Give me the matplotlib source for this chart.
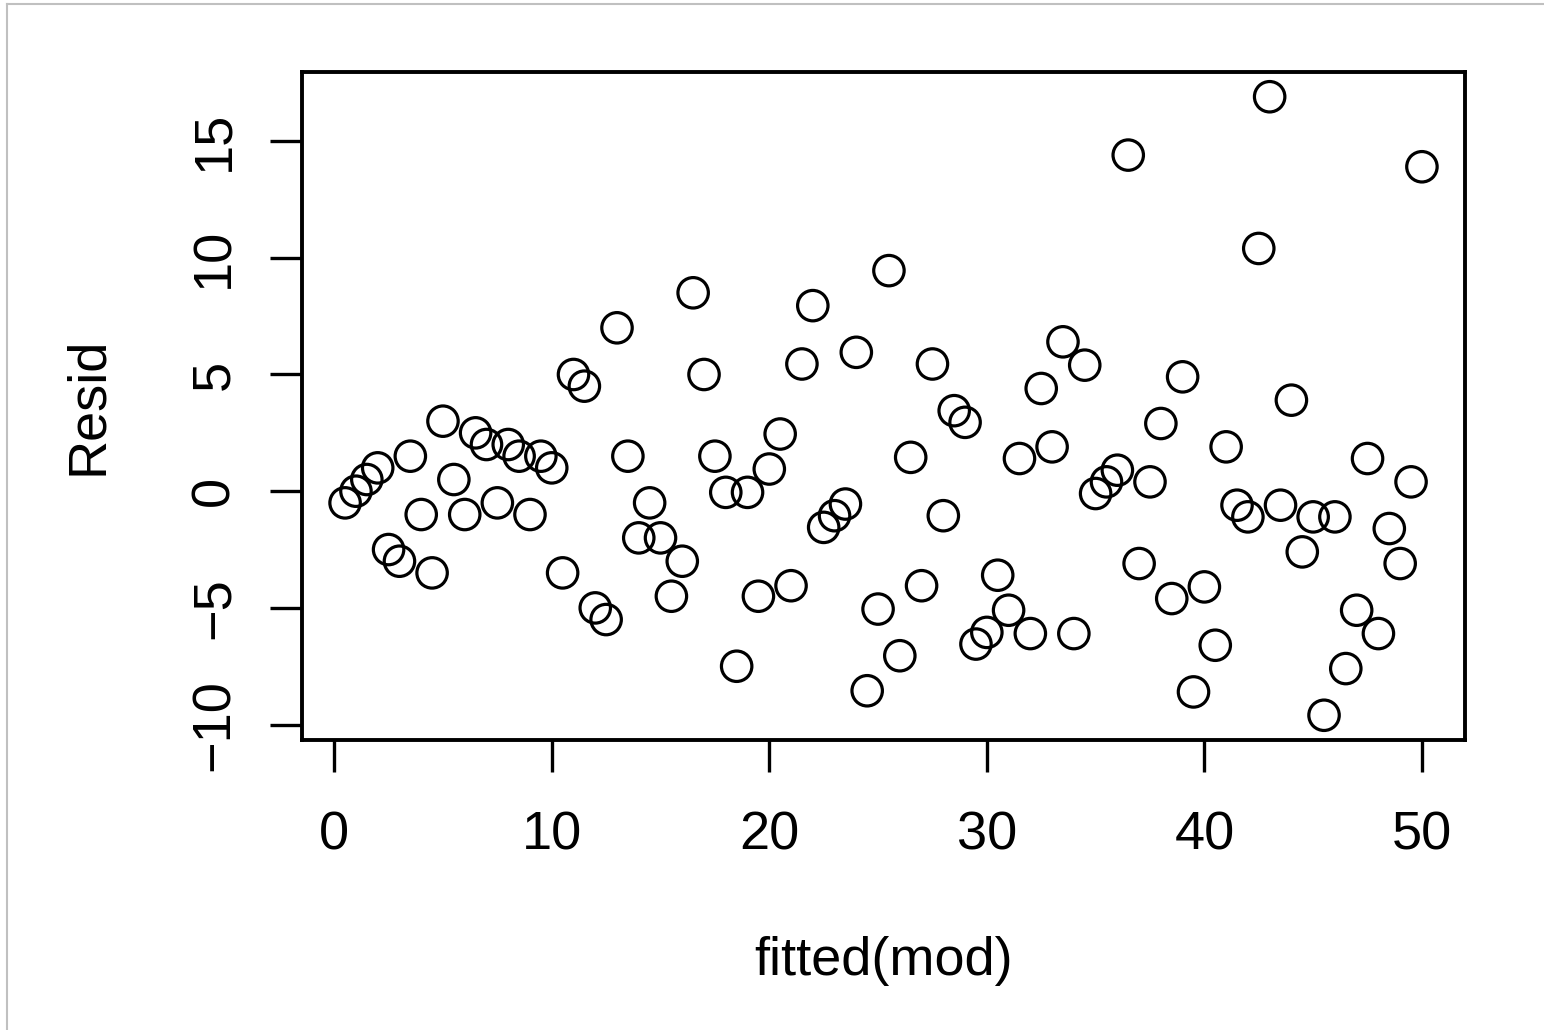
import matplotlib
matplotlib.use("Agg")
import matplotlib.pyplot as plt
from matplotlib.lines import Line2D

plt.rcParams['font.family'] = ['Liberation Sans', 'DejaVu Sans']

# fitted values and residuals
fitted = [0.5, 1.0, 1.5, 2.0, 2.5, 3.0, 3.5, 4.0, 4.5, 5.0,
          5.5, 6.0, 6.5, 7.0, 7.5, 8.0, 8.5, 9.0, 9.5, 10.0,
          10.5, 11.0, 11.5, 12.0, 12.5, 13.0, 13.5, 14.0, 14.5, 15.0,
          15.5, 16.0, 16.5, 17.0, 17.5, 18.0, 18.5, 19.0, 19.5, 20.0,
          20.5, 21.0, 21.5, 22.0, 22.5, 23.0, 23.5, 24.0, 24.5, 25.0,
          25.5, 26.0, 26.5, 27.0, 27.5, 28.0, 28.5, 29.0, 29.5, 30.0,
          30.5, 31.0, 31.5, 32.0, 32.5, 33.0, 33.5, 34.0, 34.5, 35.0,
          35.5, 36.0, 36.5, 37.0, 37.5, 38.0, 38.5, 39.0, 39.5, 40.0,
          40.5, 41.0, 41.5, 42.0, 42.5, 43.0, 43.5, 44.0, 44.5, 45.0,
          45.5, 46.0, 46.5, 47.0, 47.5, 48.0, 48.5, 49.0, 49.5, 50.0]
resid = [-0.5, 0.0, 0.5, 1.0, -2.5, -3.0, 1.5, -1.0, -3.5, 3.0,
         0.5, -1.0, 2.5, 2.0, -0.5, 2.0, 1.5, -1.0, 1.5, 1.0,
         -3.5, 5.0, 4.5, -5.0, -5.5, 7.0, 1.5, -2.0, -0.5, -2.0,
         -4.5, -3.0, 8.5, 5.0, 1.5, -0.05, -7.5, -0.05, -4.5, 0.95,
         2.45, -4.05, 5.45, 7.95, -1.55, -1.05, -0.55, 5.95, -8.55, -5.05,
         9.45, -7.05, 1.45, -4.05, 5.45, -1.05, 3.45, 2.95, -6.55, -6.05,
         -3.6, -5.1, 1.4, -6.1, 4.4, 1.9, 6.4, -6.1, 5.4, -0.1,
         0.4, 0.9, 14.4, -3.1, 0.4, 2.9, -4.6, 4.9, -8.6, -4.1,
         -6.6, 1.9, -0.6, -1.1, 10.4, 16.9, -0.6, 3.9, -2.6, -1.1,
         -9.6, -1.1, -7.6, -5.1, 1.4, -6.1, -1.6, -3.1, 0.4, 13.9]

xticks = [0, 10, 20, 30, 40, 50]
yticks = [-10, -5, 0, 5, 10, 15]

fig = plt.figure(figsize=(15.44, 10.30), dpi=100)
ax = fig.add_axes([302 / 1544, 1 - 740 / 1030, 1163 / 1544, 668 / 1030])

ax.scatter(fitted, resid, s=480, facecolors='none', edgecolors='black', linewidths=2.3)

# R style 4% padding
def pad(v):
    r = max(v) - min(v)
    return min(v) - 0.04 * r, max(v) + 0.04 * r

ax.set_xlim(*pad(fitted))
ax.set_ylim(*pad(resid))

ax.set_xticks(xticks)
ax.set_yticks(yticks)
ax.set_yticklabels([str(t).replace('-', '\u2212') for t in yticks])
ax.tick_params(axis='both', direction='out', length=23, width=2.4,
               labelsize=39, pad=28)
ax.tick_params(axis='y', labelrotation=90, pad=22)
for lab in ax.get_yticklabels():
    lab.set_va('center')
for sp in ax.spines.values():
    sp.set_linewidth(2.8)

ax.set_xlabel('fitted(mod)', fontsize=39, labelpad=54)
ax.set_ylabel('Resid', fontsize=39, labelpad=55)

# light frame on left and top of the image
fig.add_artist(Line2D([7 / 1544, 7 / 1544], [0, 1 - 4 / 1030], color='#c0c0c0', lw=1.5))
fig.add_artist(Line2D([7 / 1544, 1], [1 - 4 / 1030, 1 - 4 / 1030], color='#c0c0c0', lw=1.5))

fig.savefig('out.png', dpi=100, facecolor='white')
